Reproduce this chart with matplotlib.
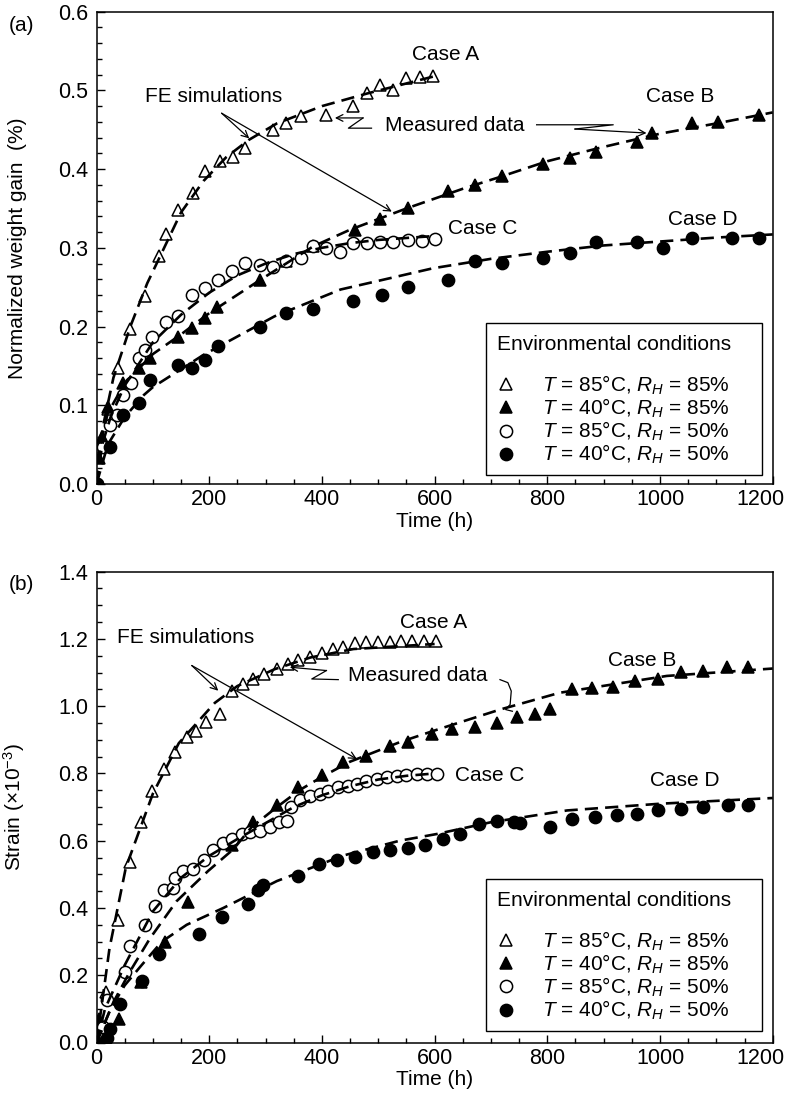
import numpy as np
import matplotlib
matplotlib.use('Agg')
import matplotlib.pyplot as plt
from matplotlib.lines import Line2D
from matplotlib.patches import Rectangle
from matplotlib.transforms import ScaledTranslation
from matplotlib.ticker import MultipleLocator, FormatStrFormatter

plt.rcParams['font.family'] = ['Liberation Sans', 'DejaVu Sans']
plt.rcParams['mathtext.fontset'] = 'custom'
plt.rcParams['mathtext.rm'] = 'Liberation Sans'
plt.rcParams['mathtext.it'] = 'Liberation Sans:italic'
plt.rcParams['font.size'] = 15

# ---------------- (a) normalized weight gain (%) ----------------
a_t = [0, 10, 20, 38, 59, 86, 110, 123, 145, 172, 193, 219, 243, 264, 313, 337, 362,
       408, 456, 480, 503, 527, 550, 574, 598]
a_v = [0, 0.06, 0.095, 0.147, 0.197, 0.239, 0.289, 0.317, 0.348, 0.370, 0.397, 0.410,
       0.416, 0.427, 0.450, 0.458, 0.467, 0.469, 0.480, 0.497, 0.507, 0.501, 0.516,
       0.517, 0.518]
a_fe_t = [0, 5, 12, 30, 60, 90, 120, 150, 190, 230, 270, 320, 400, 480, 540, 600]
a_fe_v = [0, 0.045, 0.075, 0.135, 0.20, 0.255, 0.30, 0.345, 0.385, 0.415, 0.437, 0.458,
          0.48, 0.496, 0.507, 0.518]

b_t = [0, 5, 9, 21, 47, 75, 95, 145, 169, 193, 213, 290, 337, 385, 459, 503, 553, 624,
       672, 719, 793, 840, 887, 959, 985, 1057, 1103, 1175]
b_v = [0, 0.033, 0.058, 0.098, 0.128, 0.147, 0.160, 0.187, 0.198, 0.211, 0.225, 0.259,
       0.283, 0.302, 0.323, 0.336, 0.350, 0.372, 0.380, 0.391, 0.406, 0.414, 0.422,
       0.435, 0.446, 0.458, 0.460, 0.469]
b_fe_t = [0, 5, 20, 50, 100, 150, 200, 290, 385, 450, 550, 650, 716, 800, 893, 1000,
          1100, 1200]
b_fe_v = [0, 0.045, 0.09, 0.128, 0.165, 0.19, 0.217, 0.259, 0.302, 0.323, 0.35, 0.375,
          0.39, 0.41, 0.427, 0.445, 0.458, 0.472]

c_t = [0, 12, 24, 36, 47, 62, 75, 86, 98, 124, 145, 169, 193, 216, 240, 264, 290, 314,
       337, 362, 385, 408, 432, 456, 480, 503, 527, 553, 577, 601]
c_v = [0, 0.047, 0.075, 0.088, 0.113, 0.128, 0.160, 0.170, 0.187, 0.206, 0.213, 0.240,
       0.249, 0.259, 0.270, 0.281, 0.278, 0.276, 0.283, 0.287, 0.302, 0.300, 0.295,
       0.306, 0.306, 0.307, 0.308, 0.310, 0.309, 0.311]
c_fe_t = [0, 10, 25, 50, 100, 150, 200, 250, 300, 350, 400, 450, 500, 600]
c_fe_v = [0, 0.05, 0.085, 0.125, 0.18, 0.215, 0.243, 0.265, 0.28, 0.292, 0.30, 0.306,
          0.31, 0.315]

d_t = [0, 24, 47, 75, 95, 145, 169, 193, 216, 290, 337, 385, 456, 506, 553, 624, 672,
       719, 793, 840, 887, 959, 1006, 1057, 1128, 1175]
d_v = [0, 0.047, 0.088, 0.103, 0.132, 0.151, 0.147, 0.158, 0.175, 0.199, 0.217, 0.222,
       0.232, 0.240, 0.250, 0.259, 0.283, 0.281, 0.287, 0.293, 0.308, 0.307, 0.300,
       0.312, 0.312, 0.312]
d_fe_t = [0, 20, 50, 84, 100, 190, 316, 433, 500, 597, 700, 800, 900, 1000, 1100, 1200]
d_fe_v = [0, 0.05, 0.085, 0.113, 0.123, 0.164, 0.213, 0.247, 0.258, 0.274, 0.286, 0.295,
          0.303, 0.308, 0.313, 0.317]

# ---------------- (b) strain (x10^-3) ----------------
sa_t = [0, 17, 38, 59, 79, 98, 119, 139, 160, 177, 195, 219, 240, 260, 278, 298, 320,
        340, 358, 378, 400, 420, 438, 458, 479, 499, 520, 540, 560, 581, 602]
sa_v = [0, 0.15, 0.363, 0.536, 0.655, 0.749, 0.814, 0.863, 0.908, 0.927, 0.952, 0.977,
        1.046, 1.066, 1.081, 1.096, 1.111, 1.126, 1.138, 1.145, 1.157, 1.170, 1.177,
        1.187, 1.190, 1.190, 1.192, 1.195, 1.195, 1.195, 1.195]
sa_fe_t = [0, 10, 23, 52, 76, 100, 146, 210, 250, 316, 380, 456, 600]
sa_fe_v = [0, 0.12, 0.28, 0.52, 0.63, 0.74, 0.89, 1.01, 1.06, 1.11, 1.145, 1.17, 1.185]

sb_t = [0, 5, 40, 79, 121, 162, 240, 278, 320, 358, 400, 438, 479, 520, 553, 595, 630,
        672, 710, 746, 778, 805, 843, 879, 917, 956, 997, 1038, 1077, 1118, 1157]
sb_v = [0, 0.07, 0.07, 0.18, 0.298, 0.417, 0.586, 0.655, 0.705, 0.759, 0.794, 0.833,
        0.853, 0.883, 0.893, 0.918, 0.933, 0.939, 0.949, 0.967, 0.977, 0.992, 1.051,
        1.054, 1.056, 1.076, 1.081, 1.101, 1.106, 1.116, 1.116]
sb_fe_t = [0, 10, 30, 59, 95, 142, 198, 243, 275, 320, 360, 400, 450, 538, 604, 716,
           822, 1012, 1200]
sb_fe_v = [0, 0.04, 0.12, 0.21, 0.31, 0.42, 0.51, 0.575, 0.64, 0.70, 0.75, 0.79, 0.835,
           0.893, 0.93, 0.99, 1.04, 1.09, 1.112]

sc_t = [0, 12, 18, 51, 59, 86, 104, 119, 136, 139, 154, 172, 190, 207, 225, 240, 258,
        272, 290, 308, 323, 338, 346, 361, 379, 397, 411, 429, 447, 462, 479, 497, 515,
        533, 550, 568, 586, 604]
sc_v = [0, 0.046, 0.125, 0.209, 0.288, 0.348, 0.407, 0.452, 0.46, 0.49, 0.509, 0.516,
        0.543, 0.573, 0.592, 0.605, 0.62, 0.625, 0.63, 0.64, 0.655, 0.658, 0.70, 0.72,
        0.734, 0.739, 0.749, 0.759, 0.764, 0.769, 0.777, 0.784, 0.789, 0.791, 0.794,
        0.797, 0.799, 0.799]
sc_fe_t = [0, 15, 50, 100, 150, 200, 250, 308, 350, 400, 450, 500, 550, 600]
sc_fe_v = [0, 0.1, 0.23, 0.39, 0.49, 0.555, 0.605, 0.66, 0.70, 0.735, 0.762, 0.782,
           0.793, 0.80]

sd_t = [0, 18, 24, 42, 80, 110, 181, 222, 269, 287, 296, 358, 394, 426, 459, 491, 521,
        553, 583, 615, 645, 678, 710, 740, 752, 805, 843, 885, 923, 959, 997, 1038,
        1077, 1121, 1157]
sd_v = [0, 0.012, 0.04, 0.115, 0.184, 0.264, 0.323, 0.372, 0.412, 0.452, 0.467, 0.496,
        0.531, 0.543, 0.553, 0.566, 0.573, 0.579, 0.586, 0.605, 0.62, 0.65, 0.66, 0.655,
        0.652, 0.64, 0.665, 0.67, 0.675, 0.68, 0.69, 0.695, 0.70, 0.705, 0.705]
sd_fe_t = [0, 25, 50, 80, 116, 160, 225, 320, 438, 538, 604, 700, 835, 1000, 1200]
sd_fe_v = [0, 0.1, 0.17, 0.23, 0.30, 0.35, 0.40, 0.48, 0.556, 0.60, 0.62, 0.655, 0.69,
           0.71, 0.727]

x_ticks = [0, 200, 400, 600, 800, 1000, 1200]

legend_labels = [r'$T$ = 85°C, $R_H$ = 85%', r'$T$ = 40°C, $R_H$ = 85%',
                 r'$T$ = 85°C, $R_H$ = 50%', r'$T$ = 40°C, $R_H$ = 50%']

styles = [dict(marker='^', mfc='white', ms=8.8), dict(marker='^', mfc='black', ms=8.8),
          dict(marker='o', mfc='white', ms=8.8), dict(marker='o', mfc='black', ms=8.8)]

fig = plt.figure(figsize=(7.88, 11.12), dpi=100)
ax1 = fig.add_axes([0.1225, 0.5648, 0.8581, 0.4247])
ax2 = fig.add_axes([0.1225, 0.0625, 0.8581, 0.4234])


def draw(ax, meas, fe):
    for (t, v), st in zip(meas, styles):
        ax.plot(t, v, ls='none', mec='black', mew=1.1, zorder=2, **st)
    for t, v in fe:
        ax.plot(t, v, color='black', lw=1.9, dashes=(5, 2.7), zorder=3)


def squiggle(ax, pts):
    xs = [p[0] for p in pts]
    ys = [p[1] for p in pts]
    ax.plot(xs[1:], ys[1:], color='black', lw=0.9, zorder=4)
    ax.annotate('', xy=pts[0], xytext=pts[1],
                arrowprops=dict(arrowstyle='->', lw=0.9, color='black',
                                shrinkA=0, shrinkB=0, mutation_scale=12))


def style_axes(ax, ymax, ymaj, ymin, box):
    ax.set_xlim(0, 1200)
    ax.set_ylim(0, ymax)
    ax.set_xticks(x_ticks)
    ax.xaxis.set_minor_locator(MultipleLocator(50))
    ax.yaxis.set_major_locator(MultipleLocator(ymaj))
    ax.yaxis.set_minor_locator(MultipleLocator(ymin))
    ax.yaxis.set_major_formatter(FormatStrFormatter('%.1f'))
    ax.tick_params(which='both', direction='in', top=False, right=False, width=1,
                   labelsize=15.5)
    ax.tick_params(axis='x', pad=4)
    ax.tick_params(axis='y', pad=6)
    ax.tick_params(which='major', length=6)
    ax.tick_params(which='minor', length=3.5)
    for s in ax.spines.values():
        s.set_linewidth(1.1)
    ax.set_xlabel('Time (h)', fontsize=15, labelpad=1)
    # pull the "1200" label slightly inside the canvas
    last = ax.xaxis.get_major_ticks()[len(x_ticks) - 1].label1
    last.set_transform(last.get_transform() +
                       ScaledTranslation(-9 / 72, 0, fig.dpi_scale_trans))

    x0, y0, x1, y1 = box
    ax.add_patch(Rectangle((x0, y0), x1 - x0, y1 - y0, transform=ax.transAxes,
                           fill=True, facecolor='white', edgecolor='black', lw=1.0,
                           zorder=5))
    handles = [Line2D([], [], ls='none', mec='black', mew=1.1, **st) for st in styles]
    leg = ax.legend(handles, legend_labels, title='Environmental conditions',
                    loc='upper left', bbox_to_anchor=(x0, y1), fontsize=15,
                    title_fontsize=15, alignment='left', frameon=False,
                    handlelength=0.8, handletextpad=1.35,
                    labelspacing=-0.01, borderpad=0.55, borderaxespad=0)
    leg.set_zorder(6)
    leg._legend_box.sep = 14.3
    return leg


# panel (a)
draw(ax1, [(a_t, a_v), (b_t, b_v), (c_t, c_v), (d_t, d_v)],
     [(a_fe_t, a_fe_v), (b_fe_t, b_fe_v), (c_fe_t, c_fe_v), (d_fe_t, d_fe_v)])
style_axes(ax1, 0.6, 0.1, 0.02, (0.576, 0.019, 0.9846, 0.340))
ax1.set_ylabel('Normalized weight gain  (%)', fontsize=15, labelpad=22)
ax1.text(86, 0.492, 'FE simulations', va='center', fontsize=15)
ax1.text(512, 0.456, 'Measured data', va='center', fontsize=15)
ax1.text(559, 0.545, 'Case A', va='center', fontsize=15)
ax1.text(976, 0.492, 'Case B', va='center', fontsize=15)
ax1.text(624, 0.325, 'Case C', va='center', fontsize=15)
ax1.text(1015, 0.336, 'Case D', va='center', fontsize=15)
for tip in [(271, 0.439), (524, 0.346)]:
    ax1.annotate('', xy=tip, xytext=(222, 0.471),
                 arrowprops=dict(arrowstyle='->', lw=0.9, color='black',
                                 shrinkA=0, shrinkB=0, mutation_scale=12))
squiggle(ax1, [(423, 0.465), (473, 0.465), (447, 0.452), (488, 0.452)])
squiggle(ax1, [(976, 0.4458), (849, 0.4509), (917, 0.4563), (781, 0.4563)])
fig.text(0.027, 0.977, '(a)', ha='center', va='center', fontsize=15)

# panel (b)
draw(ax2, [(sa_t, sa_v), (sb_t, sb_v), (sc_t, sc_v), (sd_t, sd_v)],
     [(sa_fe_t, sa_fe_v), (sb_fe_t, sb_fe_v), (sc_fe_t, sc_fe_v), (sd_fe_t, sd_fe_v)])
style_axes(ax2, 1.4, 0.2, 0.05, (0.576, 0.025, 0.9846, 0.3467))
ax2.set_ylabel(r'Strain ($\times$10$^{-3}$)', fontsize=15, labelpad=22)
ax2.text(36, 1.205, 'FE simulations', va='center', fontsize=15)
ax2.text(447, 1.091, 'Measured data', va='center', fontsize=15)
ax2.text(539, 1.249, 'Case A', va='center', fontsize=15)
ax2.text(908, 1.136, 'Case B', va='center', fontsize=15)
ax2.text(636, 0.794, 'Case C', va='center', fontsize=15)
ax2.text(982, 0.779, 'Case D', va='center', fontsize=15)
for tip in [(216, 1.046), (462, 0.843)]:
    ax2.annotate('', xy=tip, xytext=(169, 1.121),
                 arrowprops=dict(arrowstyle='->', lw=0.9, color='black',
                                 shrinkA=0, shrinkB=0, mutation_scale=12))
squiggle(ax2, [(343, 1.116), (408, 1.106), (382, 1.081), (429, 1.079)])
ax2.plot([716, 730, 736, 734, 726, 738], [1.079, 1.070, 1.045, 1.005, 0.99, 0.985],
         color='black', lw=0.9, zorder=4)
fig.text(0.027, 0.474, '(b)', ha='center', va='center', fontsize=15)

fig.savefig('out.png', dpi=100)
